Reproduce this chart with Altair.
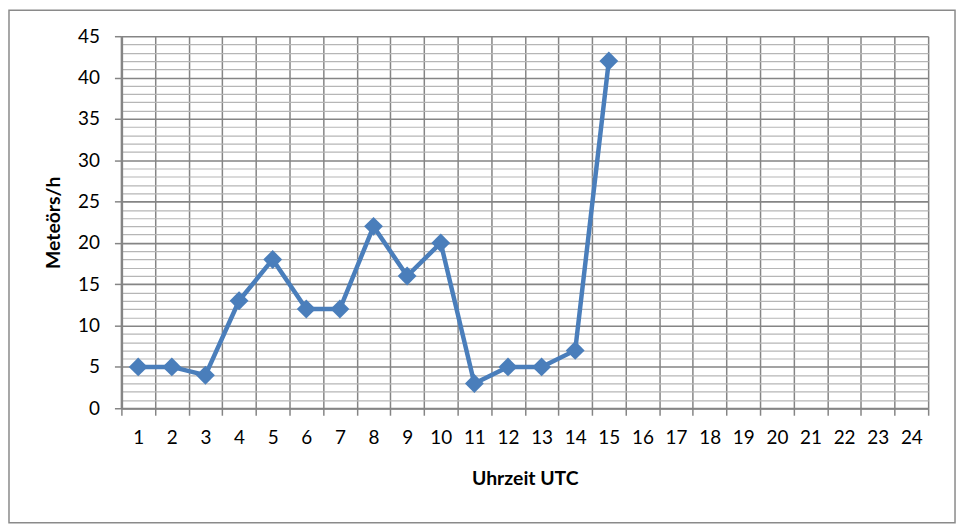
import altair as alt
import pandas as pd

hours = list(range(1, 25))
hours_with_data = list(range(1, 16))
meteors = [5, 5, 4, 13, 18, 12, 12, 22, 16, 20, 3, 5, 5, 7, 42]
y_ticks = list(range(0, 46))

df = pd.DataFrame({"hour": hours_with_data, "rate": meteors})

FONT = "Lato"
GRID_MAJOR = "#858585"
GRID_MINOR = "#b6b6b6"
BLUE = "#4a7ebb"

x_enc = alt.X(
    "hour:O",
    scale=alt.Scale(type="band", domain=hours, paddingInner=0, paddingOuter=0),
    axis=alt.Axis(
        title="Uhrzeit UTC",
        labelAngle=0,
        tickBand="extent",
        grid=True,
        gridColor=GRID_MAJOR,
        gridWidth=1.5,
        domainColor=GRID_MAJOR,
        domainWidth=2,
        tickColor=GRID_MAJOR,
        tickWidth=1.5,
        tickSize=7,
        labelPadding=13,
        labelFontSize=19,
        labelFont=FONT,
        labelColor="#000000",
        titleFont=FONT,
        titleFontSize=19.5,
        titleFontWeight="bold",
        titleColor="#000000",
        titleX=405.5,
        titleY=71,
        titleAlign="center",
        titleBaseline="middle",
    ),
)

y_enc = alt.Y(
    "rate:Q",
    scale=alt.Scale(domain=[0, 45], nice=False, zero=True),
    axis=alt.Axis(
        title="Meteörs/h",
        values=y_ticks,
        labelExpr="datum.value % 5 === 0 ? datum.label : ''",
        grid=True,
        gridColor={"condition": {"test": "datum.value % 5 === 0", "value": GRID_MAJOR}, "value": GRID_MINOR},
        gridWidth={"condition": {"test": "datum.value % 5 === 0", "value": 1.6}, "value": 1.2},
        tickOpacity={"condition": {"test": "datum.value % 5 === 0", "value": 1}, "value": 0},
        tickColor=GRID_MAJOR,
        tickWidth=1.5,
        tickSize=7,
        domainColor=GRID_MAJOR,
        domainWidth=2.5,
        labelPadding=15,
        labelFontSize=19,
        labelFont=FONT,
        labelColor="#000000",
        labelFlush=False,
        labelOverlap=False,
        titleFont=FONT,
        titleFontSize=19.5,
        titleFontWeight="bold",
        titleColor="#000000",
        titleAngle=-90,
        titleX=-68,
        titleY=187,
        titleAlign="center",
        titleBaseline="middle",
    ),
)

base = alt.Chart(df)

line = base.mark_line(color=BLUE, strokeWidth=4.5).encode(x=x_enc, y=y_enc)
points = base.mark_point(shape="diamond", filled=True, size=360, color=BLUE, opacity=1).encode(
    x=x_enc, y=y_enc
)

border = alt.Chart(pd.DataFrame({"a": [0]})).mark_rect(
    fill="transparent", stroke="#8a8a8a", strokeWidth=1.5
).encode(
    x=alt.value(-113), x2=alt.value(838), y=alt.value(-26), y2=alt.value(489)
)

chart = (
    alt.layer(line, points, border)
    .properties(
        width=811,
        height=374,
        autosize=alt.AutoSizeParams(type="none"),
        padding={"left": 114, "top": 27, "right": 30, "bottom": 118},
        background="white",
    )
    .configure_view(strokeWidth=0)
)

chart.save("out.html", embed_options={"renderer": "svg", "actions": False})
